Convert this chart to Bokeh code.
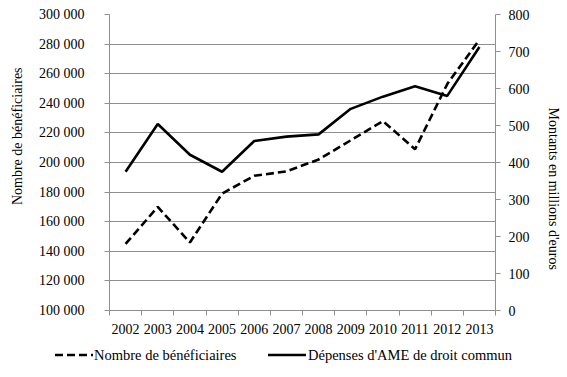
from bokeh.plotting import figure
from bokeh.layouts import column
from bokeh.models import (Range1d, LinearAxis, FixedTicker, Div)
from bokeh.embed import file_html
from bokeh.resources import INLINE

years = [2002, 2003, 2004, 2005, 2006, 2007, 2008, 2009, 2010, 2011, 2012, 2013]
beneficiaires = [145000, 170000, 146000, 179000, 191000, 194000, 202000, 215000, 228000, 209000, 253000, 283000]
depenses = [375, 504, 421, 375, 458, 470, 476, 545, 578, 606, 580, 712]

left_ticks = [100000, 120000, 140000, 160000, 180000, 200000, 220000, 240000, 260000, 280000, 300000]
right_ticks = [0, 100, 200, 300, 400, 500, 600, 700, 800]
left_title = "Nombre de bénéficiaires"
right_title = "Montants en millions d'euros"
series_names = ["Nombre de bénéficiaires", "Dépenses d'AME de droit commun"]

FONT = "Liberation Serif"
GRID = "#8f8f8f"
DASH = "8 4"
LW = 2.6
PAD = "\u00a0" * 15  # leading non-breaking spaces shift the titles below the frame centre

p = figure(width=567, height=344, output_backend="svg", toolbar_location=None,
           x_range=Range1d(years[0] - 0.5, years[-1] + 0.5),
           y_range=Range1d(left_ticks[0], left_ticks[-1]),
           min_border_left=109, min_border_right=72, min_border_top=14, min_border_bottom=34,
           x_axis_location=None, y_axis_location=None, margin=0)
p.outline_line_color = None
p.background_fill_color = "white"
p.border_fill_color = "white"
p.extra_y_ranges = {"right": Range1d(right_ticks[0], right_ticks[-1])}


def style(ax):
    ax.major_label_text_font = FONT
    ax.major_label_text_font_size = "14px"
    ax.major_label_text_color = "black"
    ax.axis_line_color = GRID
    ax.axis_label_text_font = FONT
    ax.axis_label_text_font_size = "14px"
    ax.axis_label_text_font_style = "normal"
    ax.axis_label_text_color = "black"


# x axis
bounds = [y - 0.5 for y in years] + [years[-1] + 0.5]
xaxis = LinearAxis(ticker=FixedTicker(ticks=years, minor_ticks=bounds))
style(xaxis)
xaxis.major_tick_line_color = None
xaxis.major_tick_out = 0
xaxis.major_tick_in = 0
xaxis.minor_tick_in = 0
xaxis.minor_tick_out = 5
xaxis.minor_tick_line_color = GRID
xaxis.major_label_standoff = 8
xaxis.major_label_overrides = {y: str(y) for y in years}
p.add_layout(xaxis, "below")

# left axis
laxis = LinearAxis(ticker=FixedTicker(ticks=left_ticks, minor_ticks=[]), axis_label=PAD + left_title)
style(laxis)
laxis.major_label_overrides = {v: f"{v:,}".replace(",", " ") for v in left_ticks}
laxis.major_tick_in = 0
laxis.major_tick_out = 5
laxis.major_tick_line_color = GRID
laxis.major_label_standoff = 20
laxis.axis_label_standoff = 11
p.add_layout(laxis, "left")

# right axis
raxis = LinearAxis(y_range_name="right", ticker=FixedTicker(ticks=right_ticks, minor_ticks=[]),
                   axis_label=PAD + right_title)
style(raxis)
raxis.major_tick_in = 0
raxis.major_tick_out = 5
raxis.major_tick_line_color = GRID
raxis.major_label_standoff = 8
raxis.axis_label_standoff = 13
p.add_layout(raxis, "right")

p.ygrid.ticker = FixedTicker(ticks=left_ticks)
p.ygrid.grid_line_color = GRID
p.xgrid.grid_line_color = None

p.line(years, beneficiaires, line_color="black", line_width=LW, line_dash=DASH)
p.line(years, depenses, y_range_name="right", line_color="black", line_width=LW)


# legend strip below the chart (HTML, real text)
def sample(left, dash):
    dash_attr = f' stroke-dasharray="{dash}"' if dash else ""
    return (f'<svg style="position:absolute;left:{left}px;top:1px" width="38" height="20">'
            f'<line x1="0" y1="10" x2="38" y2="10" stroke="black" stroke-width="{LW}"{dash_attr}/></svg>')


def label(left, txt):
    return (f'<span style="position:absolute;left:{left}px;top:1px;line-height:20px;'
            f'white-space:nowrap">{txt}</span>')


html = (f'<div style="position:relative;width:567px;height:33px;font-family:\'{FONT}\';'
        f'font-size:14.5px;color:black;background:white">'
        + sample(55, DASH) + label(94, series_names[0])
        + sample(268, None) + label(308, series_names[1])
        + '</div>')
legend_div = Div(text=html, width=567, height=33, margin=0)

layout = column(p, legend_div, spacing=0, margin=0)
open("out.html", "w").write(file_html(layout, INLINE))
